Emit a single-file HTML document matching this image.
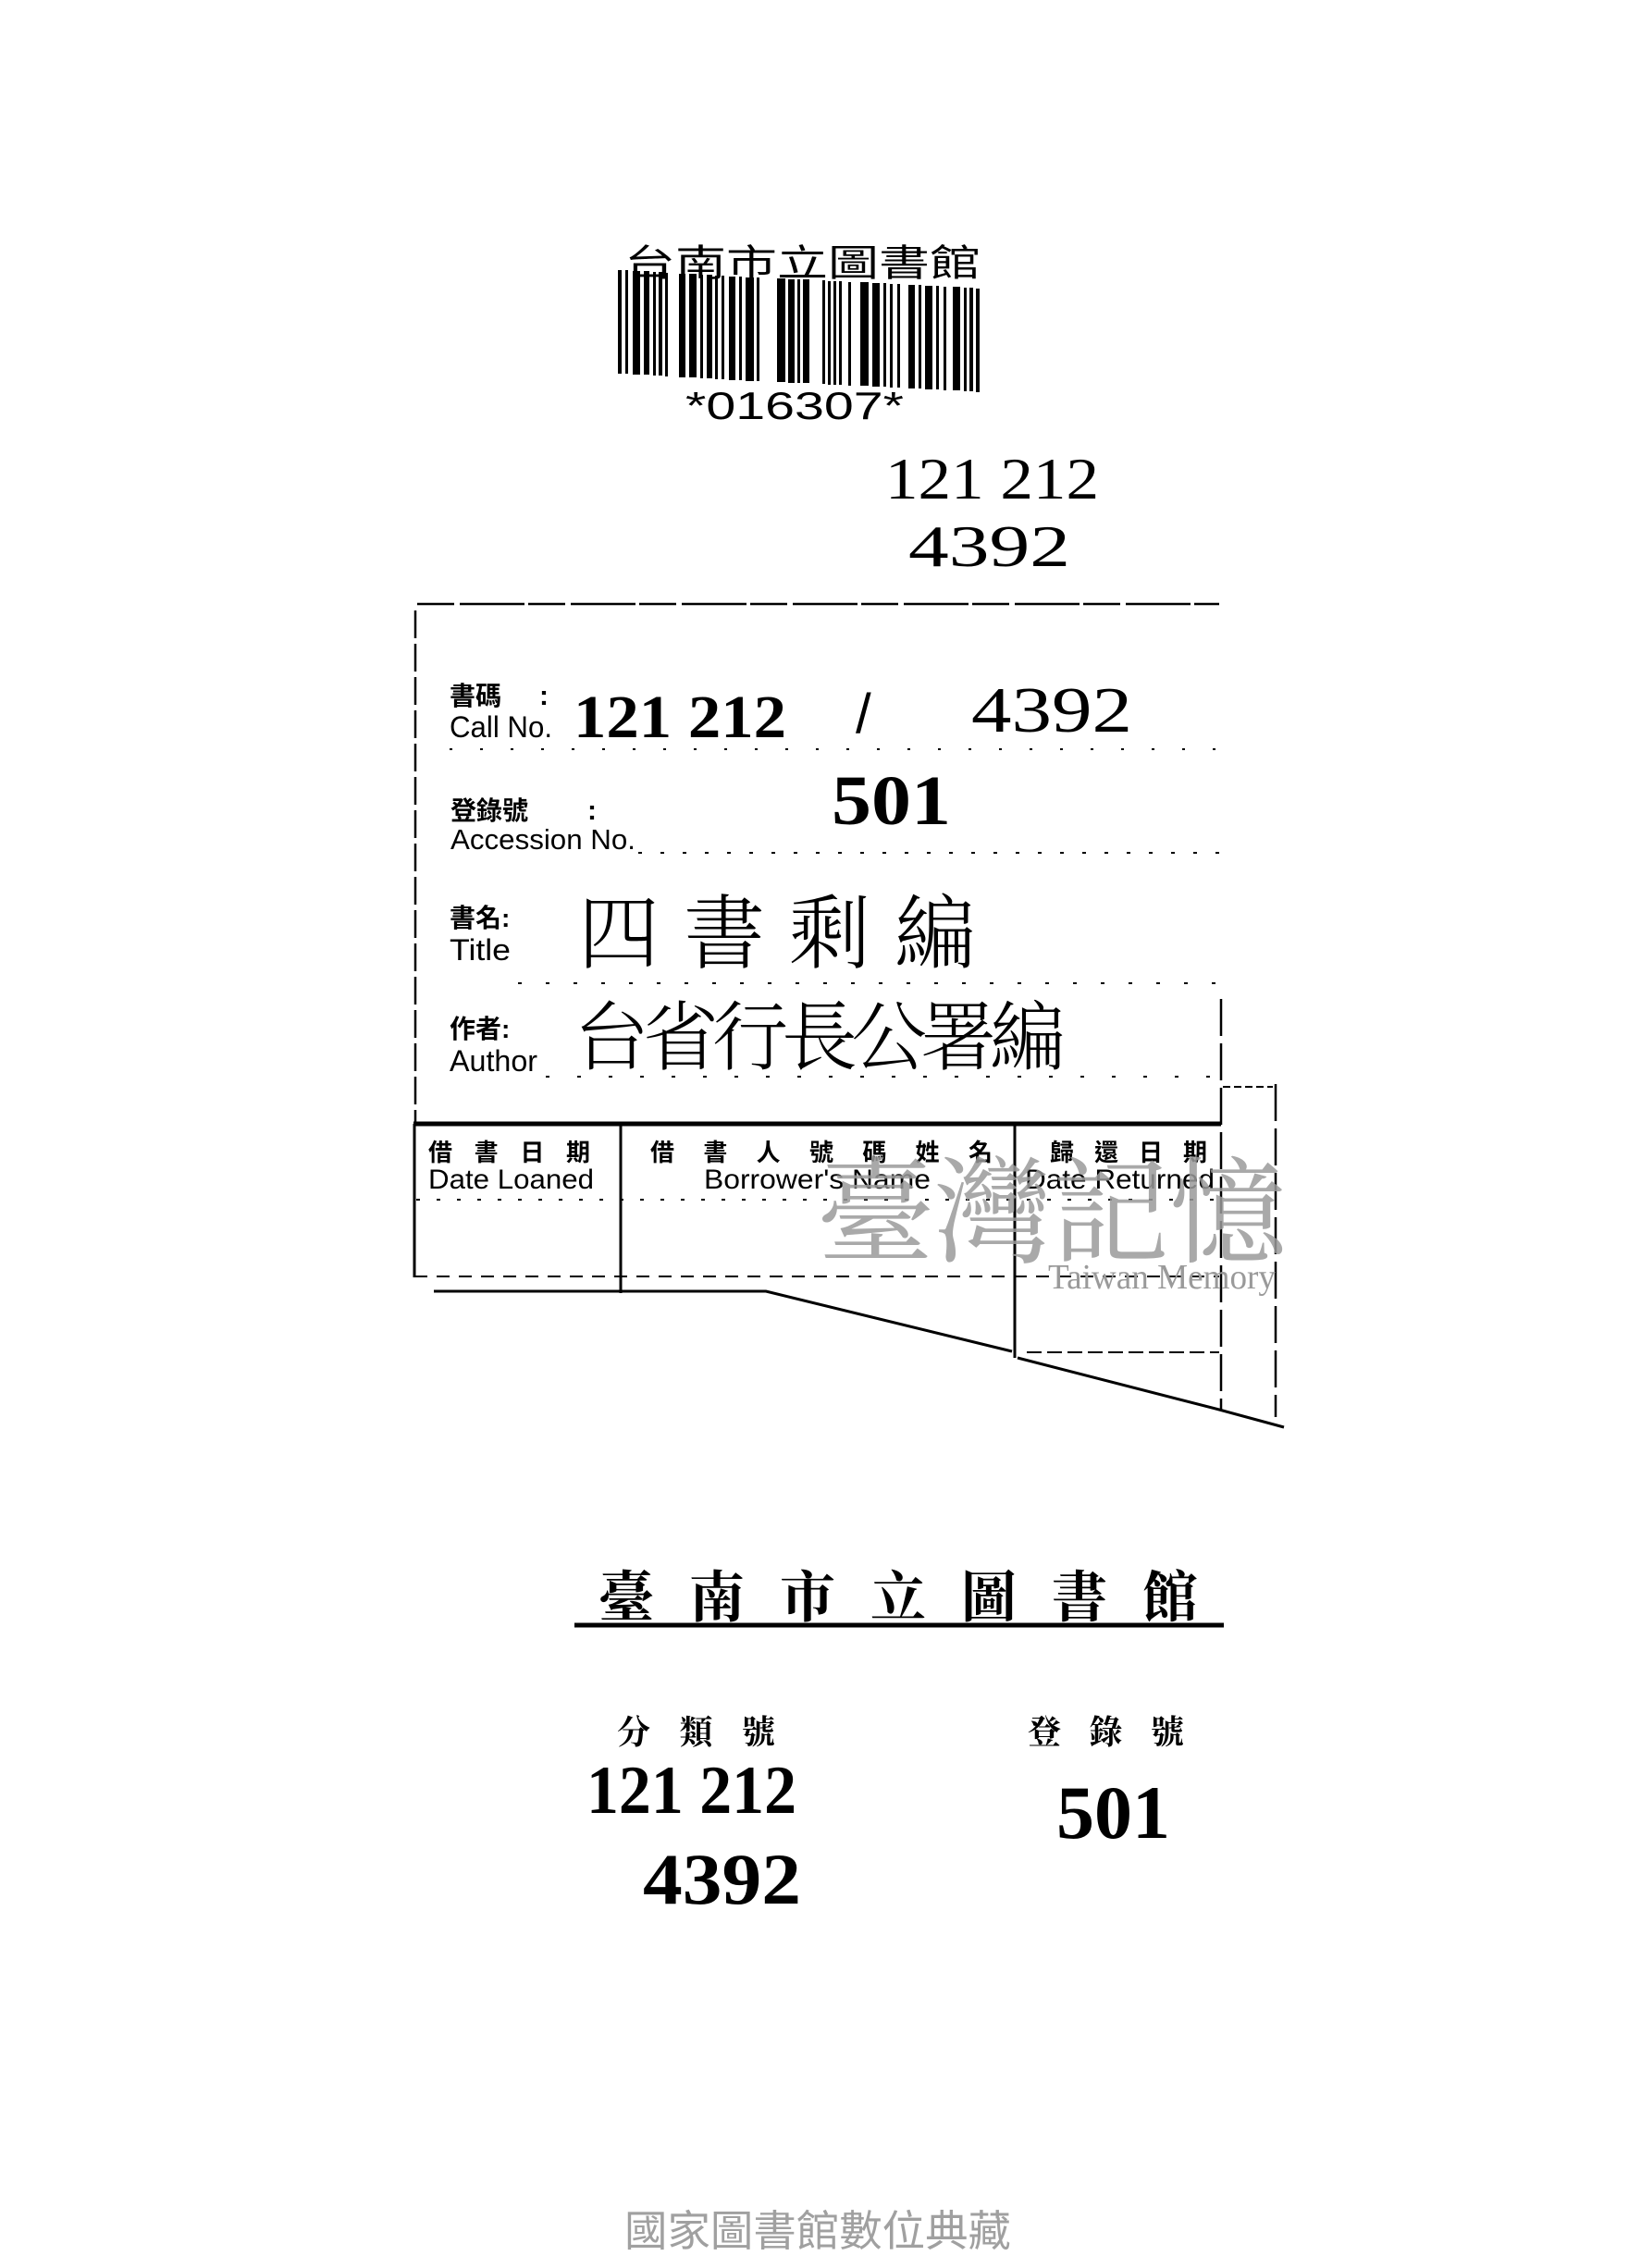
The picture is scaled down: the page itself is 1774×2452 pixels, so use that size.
<!DOCTYPE html>
<html><head><meta charset="utf-8">
<style>
html,body{margin:0;padding:0;background:#fff;}
svg{display:block;}
.s{font-family:"Liberation Sans","Noto Sans CJK TC",sans-serif;}
.sf{font-family:"Liberation Serif","Noto Serif CJK SC",serif;}
</style></head><body>
<svg width="1774" height="2452" viewBox="0 0 1774 2452" xmlns="http://www.w3.org/2000/svg">
<rect width="1774" height="2452" fill="#fff"/>
<!-- barcode header -->
<text x="675" y="298" class="s" font-size="40" fill="#000" textLength="385" lengthAdjust="spacingAndGlyphs">台南市立圖書館</text>
<g fill="#000">
<rect x="668" y="292" width="4" height="112"/><rect x="676" y="292" width="3" height="112"/>
<rect x="684" y="293" width="8" height="112"/><rect x="696" y="293" width="6" height="112"/>
<rect x="706" y="294" width="3" height="112"/><rect x="712" y="294" width="4" height="112"/>
<rect x="719" y="295" width="3" height="112"/><rect x="734" y="296" width="7" height="112"/>
<rect x="745" y="296" width="8" height="112"/><rect x="757" y="297" width="3" height="112"/>
<rect x="764" y="297" width="6" height="112"/><rect x="773" y="298" width="3" height="112"/>
<rect x="780" y="298" width="3" height="112"/><rect x="788" y="299" width="7" height="112"/>
<rect x="799" y="299" width="3" height="112"/><rect x="806" y="300" width="9" height="112"/>
<rect x="818" y="300" width="3" height="112"/><rect x="840" y="301" width="9" height="112"/>
<rect x="852" y="302" width="7" height="112"/><rect x="862" y="302" width="3" height="112"/>
<rect x="868" y="302" width="7" height="112"/><rect x="889" y="303" width="3" height="112"/>
<rect x="895" y="304" width="3" height="112"/><rect x="901" y="304" width="3" height="112"/>
<rect x="907" y="304" width="3" height="112"/><rect x="917" y="305" width="3" height="112"/>
<rect x="930" y="305" width="9" height="112"/><rect x="943" y="306" width="8" height="112"/>
<rect x="955" y="306" width="3" height="112"/><rect x="962" y="307" width="3" height="112"/>
<rect x="970" y="307" width="3" height="112"/><rect x="982" y="308" width="7" height="112"/>
<rect x="993" y="308" width="3" height="112"/><rect x="1000" y="309" width="8" height="112"/>
<rect x="1012" y="309" width="3" height="112"/><rect x="1020" y="310" width="3" height="112"/>
<rect x="1030" y="310" width="8" height="112"/><rect x="1042" y="311" width="3" height="112"/>
<rect x="1048" y="311" width="4" height="112"/><rect x="1055" y="312" width="4" height="112"/>
</g>
<text x="741" y="453" class="s" font-size="42" fill="#000" textLength="236" lengthAdjust="spacingAndGlyphs">*016307*</text>
<text x="957" y="539" class="sf" font-size="64" fill="#000" textLength="231" lengthAdjust="spacingAndGlyphs">121 212</text>
<text x="982" y="612" class="sf" font-size="64" fill="#000" textLength="175" lengthAdjust="spacingAndGlyphs">4392</text>

<!-- card borders -->
<g stroke="#000" fill="none">
<line x1="451" y1="653" x2="1318" y2="653" stroke-width="2.5" stroke-dasharray="40 6 70 4"/>
<line x1="449" y1="660" x2="449" y2="1215" stroke-width="2.5" stroke-dasharray="30 6"/>
<line x1="1320" y1="1080" x2="1320" y2="1524" stroke-width="2.5" stroke-dasharray="40 8"/>
<line x1="1379" y1="1172" x2="1379" y2="1532" stroke-width="2.5" stroke-dasharray="40 8"/>
<line x1="1322" y1="1175" x2="1376" y2="1175" stroke-width="2" stroke-dasharray="8 4"/>
<!-- dotted rules -->
<line x1="486" y1="810" x2="1318" y2="810" stroke-width="2" stroke-dasharray="3 30"/>
<line x1="690" y1="922" x2="1318" y2="922" stroke-width="2" stroke-dasharray="4 20"/>
<line x1="560" y1="1063" x2="1318" y2="1063" stroke-width="2" stroke-dasharray="4 26"/>
<line x1="590" y1="1164" x2="1318" y2="1164" stroke-width="2" stroke-dasharray="4 30"/>
<!-- table -->
<line x1="447" y1="1215" x2="1320" y2="1215" stroke-width="5"/>
<line x1="448" y1="1215" x2="448" y2="1381" stroke-width="3"/>
<line x1="671" y1="1215" x2="671" y2="1398" stroke-width="3"/>
<line x1="1097" y1="1215" x2="1097" y2="1468" stroke-width="3"/>
<line x1="450" y1="1297" x2="1318" y2="1297" stroke-width="2" stroke-dasharray="4 18"/>
<line x1="448" y1="1380" x2="1318" y2="1380" stroke-width="2" stroke-dasharray="14 10"/>
<polyline points="469,1396 828,1396 1094,1461" stroke-width="3"/>
<line x1="1110" y1="1462" x2="1318" y2="1462" stroke-width="2" stroke-dasharray="16 6"/>
<polyline points="1100,1468 1318,1524 1388,1543" stroke-width="3"/>
</g>
<!-- labels -->
<text x="486" y="762" class="s" font-size="28" font-weight="bold">書碼</text>
<text x="583" y="762" class="s" font-size="30" font-weight="bold">:</text>
<text x="486" y="797" class="s" font-size="32" textLength="111" lengthAdjust="spacingAndGlyphs">Call No.</text>
<text x="620" y="797" class="sf" font-size="66" font-weight="bold" textLength="230" lengthAdjust="spacingAndGlyphs">121 212</text>
<text x="925" y="792" class="s" font-size="60">/</text>
<text x="1050" y="791" class="sf" font-size="70" textLength="174" lengthAdjust="spacingAndGlyphs">4392</text>
<text x="487" y="886" class="s" font-size="28" font-weight="bold">登錄號</text>
<text x="635" y="886" class="s" font-size="30" font-weight="bold">:</text>
<text x="487" y="918" class="s" font-size="31" textLength="200" lengthAdjust="spacingAndGlyphs">Accession No.</text>
<text x="899" y="891" class="sf" font-size="76" font-weight="bold" textLength="129" lengthAdjust="spacingAndGlyphs">501</text>
<text x="486" y="1002" class="s" font-size="28" font-weight="bold">書名:</text>
<text x="486" y="1038" class="s" font-size="32" textLength="66" lengthAdjust="spacingAndGlyphs">Title</text>
<text x="625" y="1040" class="sf" font-size="88" font-weight="300" textLength="430" lengthAdjust="spacing">四書剩編</text>
<text x="486" y="1122" class="s" font-size="28" font-weight="bold">作者:</text>
<text x="486" y="1158" class="s" font-size="32" textLength="95" lengthAdjust="spacingAndGlyphs">Author</text>
<text x="620" y="1150" class="sf" font-size="82" font-weight="300" textLength="532" lengthAdjust="spacing">台省行長公署編</text>
<!-- table headers -->
<text x="463" y="1255" class="s" font-size="26" font-weight="bold" textLength="175" lengthAdjust="spacing">借書日期</text>
<text x="463" y="1285" class="s" font-size="30" textLength="179" lengthAdjust="spacingAndGlyphs">Date Loaned</text>
<text x="703" y="1255" class="s" font-size="26" font-weight="bold" textLength="370" lengthAdjust="spacing">借書人號碼姓名</text>
<text x="761" y="1285" class="s" font-size="30" textLength="245" lengthAdjust="spacingAndGlyphs">Borrower's Name</text>
<text x="1135" y="1255" class="s" font-size="26" font-weight="bold" textLength="170" lengthAdjust="spacing">歸還日期</text>
<text x="1108" y="1285" class="s" font-size="30" textLength="205" lengthAdjust="spacingAndGlyphs">Date Returned</text>
<!-- watermark -->
<text x="883" y="1355" font-family="'Noto Serif CJK SC',serif" font-size="125" fill="#9a9a9a" fill-opacity="0.85" textLength="508" lengthAdjust="spacingAndGlyphs">臺灣記憶</text>
<text x="1133" y="1393" class="sf" font-size="38" fill="#9a9a9a" textLength="246" lengthAdjust="spacingAndGlyphs">Taiwan Memory</text>
<!-- stamp -->
<text x="647" y="1748" font-family="'Noto Serif CJK SC',serif" font-size="60" font-weight="bold" textLength="648" lengthAdjust="spacing">臺南市立圖書館</text>
<line x1="621" y1="1757" x2="1323" y2="1757" stroke="#000" stroke-width="5"/>
<text x="667" y="1885" font-family="'Noto Serif CJK SC',serif" font-size="36" font-weight="bold" textLength="171" lengthAdjust="spacing">分類號</text>
<text x="1111" y="1885" font-family="'Noto Serif CJK SC',serif" font-size="36" font-weight="bold" textLength="169" lengthAdjust="spacing">登錄號</text>
<text x="634" y="1960" class="sf" font-size="74" font-weight="bold" textLength="227" lengthAdjust="spacingAndGlyphs">121 212</text>
<text x="695" y="2058" class="sf" font-size="78" font-weight="bold" textLength="171" lengthAdjust="spacingAndGlyphs">4392</text>
<text x="1142" y="1987" class="sf" font-size="82" font-weight="bold" textLength="123" lengthAdjust="spacingAndGlyphs">501</text>
<!-- footer -->
<text x="675" y="2428" font-family="'Noto Sans CJK TC',sans-serif" font-size="46" fill="#a0a0a0" textLength="418" lengthAdjust="spacingAndGlyphs">國家圖書館數位典藏</text>
</svg>
</body></html>
